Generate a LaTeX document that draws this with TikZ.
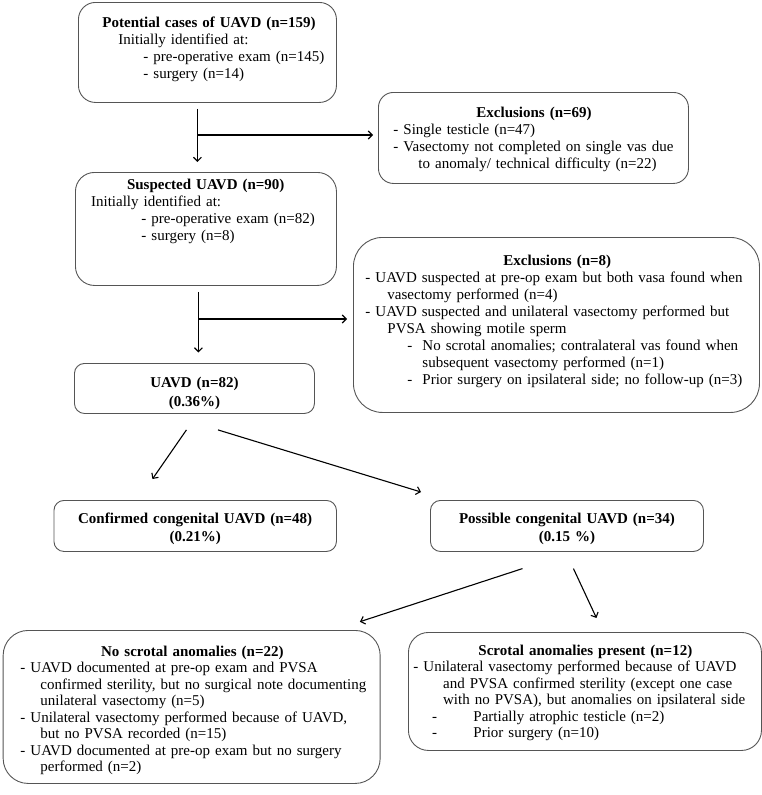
\documentclass[tikz,border=0pt]{standalone}
\usepackage{fontspec}
\setmainfont{Liberation Serif}
\usepackage{tikz}
\usetikzlibrary{positioning,calc,arrows.meta}
\definecolor{boxline}{RGB}{85,85,85}
\tikzset{>={Straight Barb[length=4pt,width=8pt]}}
\tikzset{
  box/.style={draw=boxline, line width=0.9pt, inner sep=0pt, anchor=north west,
    align=left, font=\fontsize{15}{17}\selectfont},
  lowbox/.style={box, font=\fontsize{15}{16.5}\selectfont},
  midbox/.style={box, align=center, font=\fontsize{15}{18}\selectfont\bfseries},
  flow/.style={->, line width=1.1pt}
}

\begin{document}
\begin{tikzpicture}[x=1pt,y=-1pt]
\useasboundingbox (0,0) rectangle (762,795);
% first row
\node[box, rounded corners=17pt, text width=258pt, text height=25pt, text depth=75pt] (pot) at (78,2)
  {\hspace*{24pt}\textbf{Potential cases of UAVD (n=159)}\\
   \hspace*{40pt}Initially identified at:\\
   \hspace*{65pt}- pre-operative exam (n=145)\\
   \hspace*{65pt}- surgery (n=14)};
\node[box, rounded corners=15pt, text width=310pt, text height=25pt, text depth=66pt] (excl1) at (378,92)
  {\hspace*{98pt}\textbf{Exclusions (n=69)}\\
   \hspace*{15pt}- Single testicle (n=47)\\
   \hspace*{15pt}- Vasectomy not completed on single vas due\\
   \hspace*{40pt}to anomaly/ technical difficulty (n=22)};
% second row
\node[box, rounded corners=19pt, text width=261pt, text height=17pt, text depth=96pt] (susp) at (75,172)
  {\hspace*{51.6pt}\textbf{Suspected UAVD (n=90)}\\
   \hspace*{15.7pt}Initially identified at:\\
   \hspace*{66pt}- pre-operative exam (n=82)\\
   \hspace*{66pt}- surgery (n=8)};
\node[box, rounded corners=29pt, text width=406pt, text height=28.5pt, text depth=146.5pt] (excl2) at (353,237)
  {\hspace*{150pt}\textbf{Exclusions (n=8)}\\
   \hspace*{12pt}- UAVD suspected at pre-op exam but both vasa found when\\
   \hspace*{34pt}vasectomy performed (n=4)\\
   \hspace*{12pt}- UAVD suspected and unilateral vasectomy performed but\\
   \hspace*{34pt}PVSA showing motile sperm\\
   \hspace*{54pt}\makebox[15pt][l]{-}No scrotal anomalies; contralateral vas found when\\
   \hspace*{69pt}subsequent vasectomy performed (n=1)\\
   \hspace*{54pt}\makebox[15pt][l]{-}Prior surgery on ipsilateral side; no follow-up (n=3)};
% UAVD
\node[midbox, rounded corners=10pt, font=\fontsize{15}{19}\selectfont\bfseries,
  text width=240pt, text height=24pt, text depth=26pt] (uavd) at (74,363)
  {UAVD (n=82)\\(0.36\%)};
\node[midbox, rounded corners=10pt, text width=282.5pt, text height=22.7pt, text depth=28.3pt] (conf) at (53.5,500)
  {Confirmed congenital UAVD (n=48)\\(0.21\%)};
\node[midbox, rounded corners=10pt, text width=273pt, text height=22.7pt, text depth=28.3pt] (poss) at (430,500)
  {Possible congenital UAVD (n=34)\\(0.15 \%)};
% bottom row
\node[lowbox, rounded corners=25pt, text width=377pt, text height=26pt, text depth=127pt] (noscr) at (2.7,630)
  {\hspace*{98pt}\textbf{No scrotal anomalies (n=22)}\\
   \hspace*{17.3pt}- UAVD documented at pre-op exam and PVSA\\
   \hspace*{37.3pt}confirmed sterility, but no surgical note documenting\\
   \hspace*{37.3pt}unilateral vasectomy (n=5)\\
   \hspace*{17.3pt}- Unilateral vasectomy performed because of UAVD,\\
   \hspace*{37.3pt}but no PVSA recorded (n=15)\\
   \hspace*{17.3pt}- UAVD documented at pre-op exam but no surgery\\
   \hspace*{37.3pt}performed (n=2)};
\node[lowbox, rounded corners=20pt, text width=353pt, text height=23pt, text depth=95pt] (scr) at (408,632)
  {\hspace*{70pt}\textbf{Scrotal anomalies present (n=12)}\\
   \hspace*{5pt}- Unilateral vasectomy performed because of UAVD\\
   \hspace*{34.7pt}and PVSA confirmed sterility (except one case\\
   \hspace*{34.7pt}with no PVSA), but anomalies on ipsilateral side\\
   \hspace*{23.7pt}\makebox[41.3pt][l]{-}Partially atrophic testicle (n=2)\\
   \hspace*{23.7pt}\makebox[41.3pt][l]{-}Prior surgery (n=10)};
% arrows
\coordinate (j1) at (197,135);
\coordinate (j2) at (198,319);
\draw[flow, shorten <=6pt, shorten >=10pt] ([xshift=-10pt]pot.south) -- ([xshift=-8.5pt]susp.north);
\draw[flow, shorten >=5pt] (j1) -- (j1 -| excl1.west);
\draw[flow, shorten <=6pt, shorten >=10.5pt] ([xshift=-7.5pt]susp.south) -- ([xshift=4pt]uavd.north);
\draw[flow, shorten >=6pt] (j2) -- (j2 -| excl2.west);
\draw[flow] ([xshift=-8pt,yshift=-16pt]uavd.south) -- ([xshift=-42.75pt,yshift=21pt]conf.north);
\draw[flow] ([xshift=23.5pt,yshift=-16pt]uavd.south) -- ([xshift=-9pt,yshift=8pt]poss.north west);
\draw[flow] ([xshift=-44.5pt,yshift=-16.7pt]poss.south) -- ([xshift=-20.7pt,yshift=8.3pt]noscr.north east);
\draw[flow] ([xshift=6.5pt,yshift=-16.7pt]poss.south) -- ([xshift=11.5pt,yshift=14pt]scr.north);
\end{tikzpicture}
\end{document}
